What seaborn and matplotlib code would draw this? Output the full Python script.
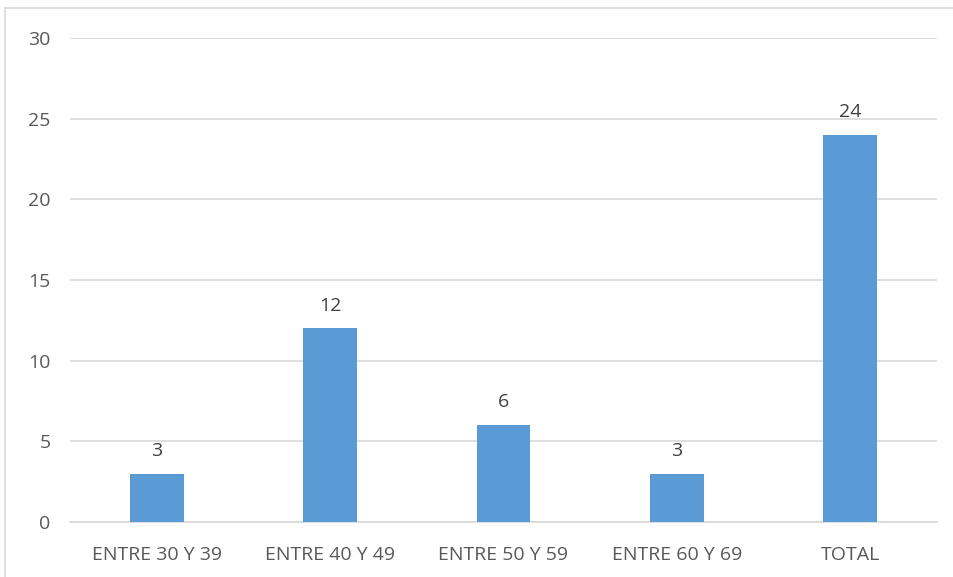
import matplotlib
matplotlib.use("Agg")
import matplotlib.pyplot as plt
import seaborn as sns
import pandas as pd
from matplotlib.patches import Rectangle

categories = ["ENTRE 30 Y 39", "ENTRE 40 Y 49", "ENTRE 50 Y 59", "ENTRE 60 Y 69", "TOTAL"]
values = [3, 12, 6, 3, 24]
yticks = [0, 5, 10, 15, 20, 25, 30]

sns.set_theme(style="white")
plt.rcParams['font.family'] = ['Open Sans', 'DejaVu Sans']

df = pd.DataFrame({"cat": categories, "val": values})

fig = plt.figure(figsize=(9.54, 5.77), dpi=100)
ax = fig.add_axes([70/954, 1-522/577, 867/954, 484/577])

sns.barplot(data=df, x="cat", y="val", color="#5B9BD5", width=0.31, ax=ax, zorder=3,
            saturation=1, linewidth=0)

ax.set_ylim(0, 30)
ax.set_yticks(yticks)
ax.set_yticklabels([str(t) for t in yticks])
ax.yaxis.grid(True, color="#D9D9D9", linewidth=1.2, zorder=0)
ax.set_axisbelow(True)
for s in ["top", "right", "left"]:
    ax.spines[s].set_visible(False)
ax.spines["bottom"].set_color("#D9D9D9")
ax.spines["bottom"].set_linewidth(1.2)
ax.set_xlabel("")
ax.set_ylabel("")
ax.tick_params(axis="both", length=0, labelsize=14, colors="#595959")
ax.tick_params(axis="y", pad=14)
ax.tick_params(axis="x", pad=17)

for c in ax.containers:
    ax.bar_label(c, labels=[str(v) for v in values], padding=10, fontsize=14, color="#404040")

fig.add_artist(Rectangle((5/954, -0.01), 1.0, 1 - 8/577 + 0.01, transform=fig.transFigure,
                         fill=False, edgecolor="#D9D9D9", linewidth=1.2))

fig.savefig("out.png", dpi=100)
